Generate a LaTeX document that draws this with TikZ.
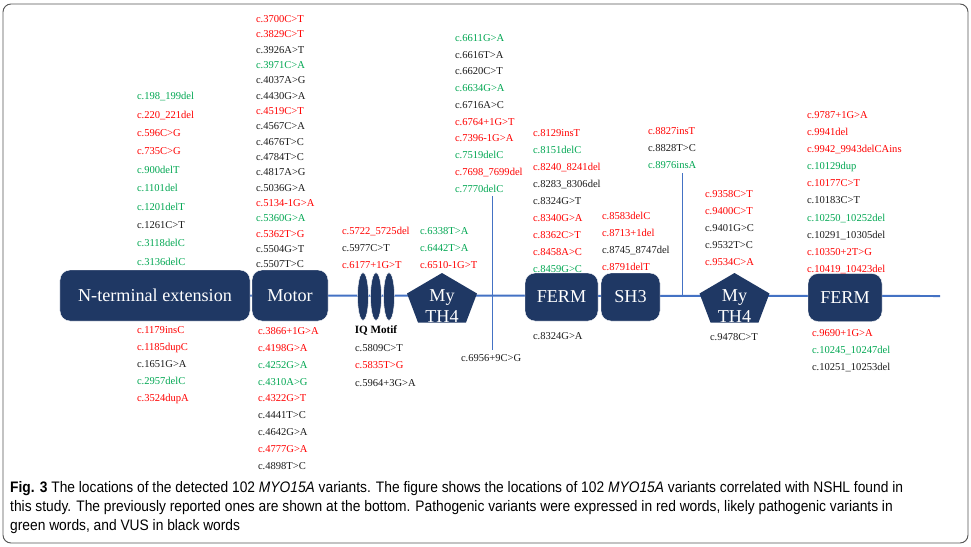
\documentclass[tikz,border=0pt]{standalone}
\usepackage{fontspec}
\setmainfont{Liberation Serif}
\newfontfamily\capfont[FakeStretch=0.905]{Liberation Sans}
\usepackage{tikz}
\usetikzlibrary{positioning,shapes.geometric,backgrounds}
\definecolor{myonavy}{HTML}{1F3864}
\definecolor{myoline}{HTML}{4472C4}
\definecolor{pat}{HTML}{FF0000}
\definecolor{lpat}{HTML}{00A651}
\definecolor{vus}{HTML}{1A1A1A}
\definecolor{myoframe}{HTML}{555555}
\tikzset{
  domainbox/.style={rectangle,rounded corners=3mm,draw=white,line width=0.4pt,fill=myonavy,text=white,inner sep=0pt,outer sep=0pt,minimum height=1.44cm,font=\fontsize{15.5}{18}\selectfont},
  iqbox/.style={ellipse,draw=white,line width=0.4pt,fill=myonavy,inner sep=0pt,outer sep=0pt,minimum width=0.33cm,minimum height=1.44cm},
  mythtext/.style={align=center,text=white,inner sep=0pt,font=\fontsize{15.5}{17.4}\selectfont},
  varcol/.style={align=left,inner sep=0pt,outer sep=0pt,anchor=north west,font=\fontsize{9}{14.5}\selectfont},
  backbone/.style={draw=myoline,line width=1.7pt},
  markline/.style={draw=myoline,line width=0.8pt},
  outerframe/.style={draw=myoframe,line width=0.8pt,rounded corners=2.4mm}
}
\begin{document}
\begin{tikzpicture}[x=0.03cm,y=-0.03cm]
\useasboundingbox (0,0) rectangle (971,546);
\draw[outerframe] (3,4) rectangle (968,543);
\coordinate (lineend) at (940,296);
\coordinate (v1top) at (492,196);
\coordinate (v1bot) at (492,350);
\coordinate (v2top) at (682,173);
\coordinate (v2bot) at (682,296);
\node[domainbox,minimum width=5.7cm,minimum height=1.53cm] (nterm) at (155,295.5) {N-terminal extension};
\node[domainbox,minimum width=2.28cm,minimum height=1.53cm,right=0.06cm of nterm] (motor) {Motor};
\node[iqbox] (iq1) at (363,296.5) {};
\node[iqbox,right=0.06cm of iq1] (iq2) {};
\node[iqbox,right=0.06cm of iq2] (iq3) {};
\node[font=\fontsize{9.5}{11}\selectfont\bfseries,below=0.02cm of iq2] (iqlabel) {IQ Motif};
\fill[myonavy] (442,273) -- (477,293.5) -- (466,322.5) -- (418,322.5) -- (407,293.5) -- cycle;
\node[mythtext] (myth1) at (442,306) {My\\TH4};
\node[domainbox,minimum width=2.19cm] (ferm1) at (561.5,297) {FERM};
\node[domainbox,minimum width=1.77cm,right=0.09cm of ferm1] (sh3) {SH3};
\fill[myonavy] (734.5,273) -- (769.5,293.5) -- (758.5,322.5) -- (710.5,322.5) -- (699.5,293.5) -- cycle;
\node[mythtext] (myth2) at (734.5,306) {My\\TH4};
\node[domainbox,minimum width=2.22cm] (ferm2) at (845,297.5) {FERM};
\begin{scope}[on background layer]
\draw[backbone] (nterm.center) -- (lineend);
\end{scope}
\draw[markline] (v1top) -- (v1bot);
\draw[markline] (v2top) -- (v2bot);

\node[varcol,font=\fontsize{9}{15.7}\selectfont] (ntermup) at (137,92.4) {\textcolor{lpat}{c.198\_199del}\\\textcolor{pat}{c.220\_221del}\\\textcolor{pat}{c.596C>G}\\\textcolor{pat}{c.735C>G}\\\textcolor{lpat}{c.900delT}\\\textcolor{lpat}{c.1101del}\\\textcolor{lpat}{c.1201delT}\\\textcolor{vus}{c.1261C>T}\\\textcolor{lpat}{c.3118delC}\\\textcolor{lpat}{c.3136delC}};
\node[varcol,font=\fontsize{9}{14.6}\selectfont] (ntermdown) at (137,326.4) {\textcolor{pat}{c.1179insC}\\\textcolor{pat}{c.1185dupC}\\\textcolor{vus}{c.1651G>A}\\\textcolor{lpat}{c.2957delC}\\\textcolor{pat}{c.3524dupA}};
\node[varcol,font=\fontsize{9}{13.1}\selectfont] (motorup) at (256,15.4) {\textcolor{pat}{c.3700C>T}\\\textcolor{pat}{c.3829C>T}\\\textcolor{vus}{c.3926A>T}\\\textcolor{lpat}{c.3971C>A}\\\textcolor{vus}{c.4037A>G}\\\textcolor{vus}{c.4430G>A}\\\textcolor{pat}{c.4519C>T}\\\textcolor{vus}{c.4567C>A}\\\textcolor{vus}{c.4676T>C}\\\textcolor{vus}{c.4784T>C}\\\textcolor{vus}{c.4817A>G}\\\textcolor{vus}{c.5036G>A}\\\textcolor{pat}{c.5134-1G>A}\\\textcolor{lpat}{c.5360G>A}\\\textcolor{pat}{c.5362T>G}\\\textcolor{vus}{c.5504G>T}\\\textcolor{vus}{c.5507T>C}};
\node[varcol,font=\fontsize{9}{14.4}\selectfont] (motordown) at (258,327.4) {\textcolor{pat}{c.3866+1G>A}\\\textcolor{pat}{c.4198G>A}\\\textcolor{lpat}{c.4252G>A}\\\textcolor{lpat}{c.4310A>G}\\\textcolor{pat}{c.4322G>T}\\\textcolor{vus}{c.4441T>C}\\\textcolor{vus}{c.4642G>A}\\\textcolor{pat}{c.4777G>A}\\\textcolor{vus}{c.4898T>C}};
\node[varcol] (iqup) at (342,227.4) {\textcolor{pat}{c.5722\_5725del}\\\textcolor{vus}{c.5977C>T}\\\textcolor{pat}{c.6177+1G>T}};
\node[varcol,font=\fontsize{9}{14.9}\selectfont] (iqdown) at (355,344.4) {\textcolor{vus}{c.5809C>T}\\\textcolor{pat}{c.5835T>G}\\\textcolor{vus}{c.5964+3G>A}};
\node[varcol] (myth1up) at (420,227.4) {\textcolor{lpat}{c.6338T>A}\\\textcolor{lpat}{c.6442T>A}\\\textcolor{pat}{c.6510-1G>T}};
\node[varcol,font=\fontsize{9}{14.3}\selectfont] (intronup) at (455,34.4) {\textcolor{lpat}{c.6611G>A}\\\textcolor{vus}{c.6616T>A}\\\textcolor{vus}{c.6620C>T}\\\textcolor{lpat}{c.6634G>A}\\\textcolor{vus}{c.6716A>C}\\\textcolor{pat}{c.6764+1G>T}\\\textcolor{pat}{c.7396-1G>A}\\\textcolor{lpat}{c.7519delC}\\\textcolor{pat}{c.7698\_7699del}\\\textcolor{lpat}{c.7770delC}};
\node[varcol] (introndown) at (461,354.4) {\textcolor{vus}{c.6956+9C>G}};
\node[varcol] (ferm1up) at (533,129.4) {\textcolor{pat}{c.8129insT}\\\textcolor{lpat}{c.8151delC}\\\textcolor{pat}{c.8240\_8241del}\\\textcolor{vus}{c.8283\_8306del}\\\textcolor{vus}{c.8324G>T}\\\textcolor{pat}{c.8340G>A}\\\textcolor{pat}{c.8362C>T}\\\textcolor{pat}{c.8458A>C}\\\textcolor{lpat}{c.8459G>C}};
\node[varcol] (ferm1down) at (533,332.4) {\textcolor{vus}{c.8324G>A}};
\node[varcol] (sh3up) at (602,212.4) {\textcolor{pat}{c.8583delC}\\\textcolor{pat}{c.8713+1del}\\\textcolor{vus}{c.8745\_8747del}\\\textcolor{pat}{c.8791delT}};
\node[varcol] (linkup) at (648,127.4) {\textcolor{pat}{c.8827insT}\\\textcolor{vus}{c.8828T>C}\\\textcolor{lpat}{c.8976insA}};
\node[varcol] (myth2up) at (705,190.4) {\textcolor{pat}{c.9358C>T}\\\textcolor{pat}{c.9400C>T}\\\textcolor{vus}{c.9401G>C}\\\textcolor{vus}{c.9532T>C}\\\textcolor{pat}{c.9534C>A}};
\node[varcol] (myth2down) at (710,333.4) {\textcolor{vus}{c.9478C>T}};
\node[varcol,font=\fontsize{9}{14.6}\selectfont] (ferm2up) at (807,111.4) {\textcolor{pat}{c.9787+1G>A}\\\textcolor{pat}{c.9941del}\\\textcolor{pat}{c.9942\_9943delCAins}\\\textcolor{lpat}{c.10129dup}\\\textcolor{pat}{c.10177C>T}\\\textcolor{vus}{c.10183C>T}\\\textcolor{lpat}{c.10250\_10252del}\\\textcolor{vus}{c.10291\_10305del}\\\textcolor{pat}{c.10350+2T>G}\\\textcolor{pat}{c.10419\_10423del}};
\node[varcol] (ferm2down) at (812,329.4) {\textcolor{pat}{c.9690+1G>A}\\\textcolor{lpat}{c.10245\_10247del}\\\textcolor{vus}{c.10251\_10253del}};

\node[align=left,anchor=north west,inner sep=0pt,font=\capfont\fontsize{13}{16.2}\selectfont] (caption) at (10,481) {\textbf{Fig. 3} The locations of the detected 102 \textit{MYO15A} variants. The figure shows the locations of 102 \textit{MYO15A} variants correlated with NSHL found in\\this study. The previously reported ones are shown at the bottom. Pathogenic variants were expressed in red words, likely pathogenic variants in\\green words, and VUS in black words};
\end{tikzpicture}
\end{document}
